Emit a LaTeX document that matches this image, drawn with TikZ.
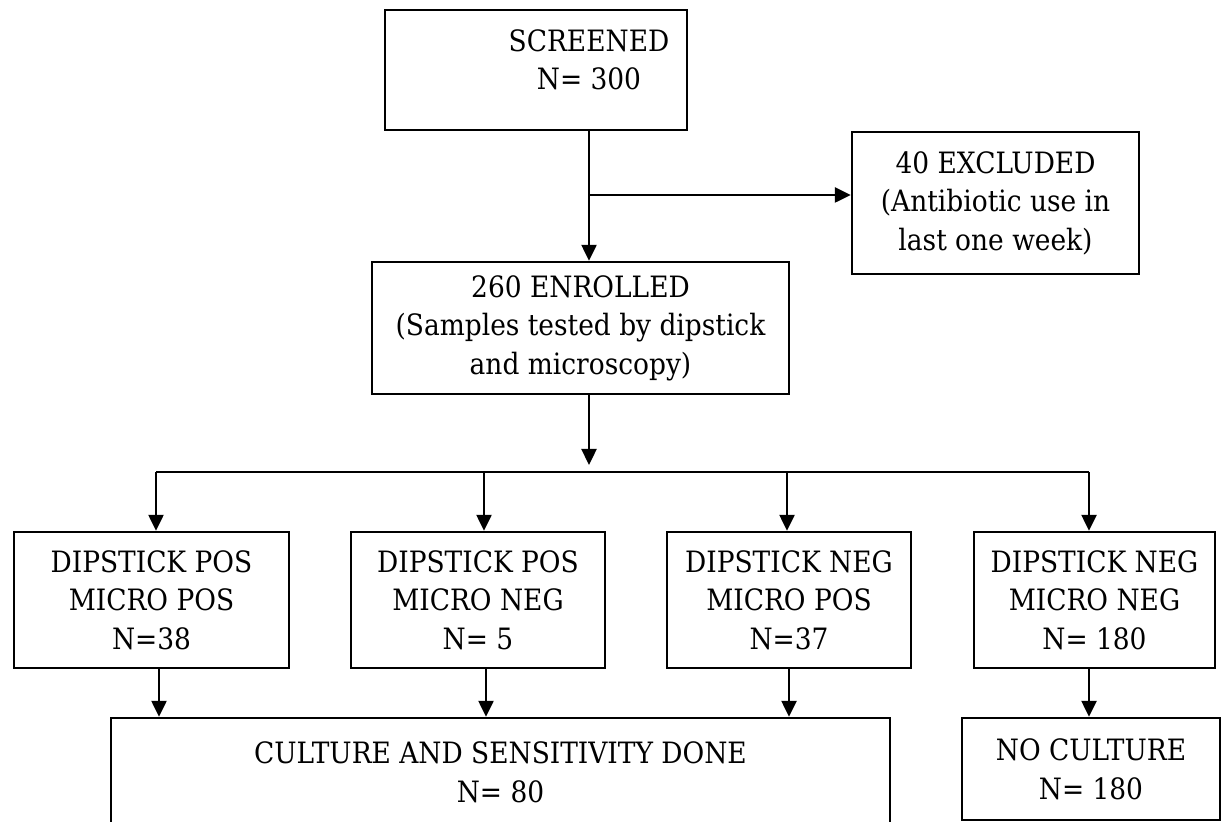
\documentclass[tikz,border=0pt]{standalone}
\usepackage{fontspec}
\setmainfont{DejaVu Serif Condensed}
\usetikzlibrary{arrows.meta}

\begin{document}
\begin{tikzpicture}[
      x=0.5pt, y=-0.5pt,
      mybox/.style={
         rectangle,
         draw=black,
         line width=1.2pt,
         inner sep=2pt,
         align=center,
         font=\fontsize{14.7}{19.3}\selectfont},
      mytext/.style={
         align=center,
         inner sep=0pt,
         font=\fontsize{14.7}{19.3}\selectfont},
      myarrow/.style={-{Triangle[length=8pt,width=7.5pt]}, line width=1.2pt},
      myline/.style={line width=1.2pt},
      ]
      \useasboundingbox (0,0) rectangle (1225,822);
      \clip (0,0) rectangle (1225,822);
      % top part
      \node[mybox, minimum width=151pt, minimum height=60pt] (screened) at (536,70) {};
      \node[mytext] (screenedtxt) at (589,60) {SCREENED\\N= 300};
      \node[mybox, minimum width=143.5pt, minimum height=71pt] (excluded) at (995.5,203)
         {40 EXCLUDED\\(Antibiotic use in\\last one week)};
      \node[mybox, minimum width=208.5pt, minimum height=66pt] (enrolled) at (580.5,328)
         {260 ENROLLED\\(Samples tested by dipstick\\and microscopy)};
      % groups
      \node[mybox, minimum width=137.5pt, minimum height=68pt] (p1) at (151.5,600)
         {DIPSTICK POS\\MICRO POS\\N=38};
      \node[mybox, minimum width=127pt, minimum height=68pt] (p2) at (478,600)
         {DIPSTICK POS\\MICRO NEG\\N= 5};
      \node[mybox, minimum width=122pt, minimum height=68pt] (p3) at (789,600)
         {DIPSTICK NEG\\MICRO POS\\N=37};
      \node[mybox, minimum width=120.5pt, minimum height=68pt] (p4) at (1094.5,600)
         {DIPSTICK NEG\\MICRO NEG\\N= 180};
      \node[mybox, minimum width=389.5pt, minimum height=54pt] (culture) at (500.5,772)
         {CULTURE AND SENSITIVITY DONE\\N= 80};
      \node[mybox, minimum width=129pt, minimum height=51pt] (noculture) at (1091,769)
         {NO CULTURE\\N= 180};
      % connectors
      \coordinate (fork) at (589,195);
      \coordinate (hub) at (589,465);
      \draw[myarrow] (screenedtxt |- screened.south) -- (screenedtxt |- enrolled.north);
      \draw[myarrow] (fork) -- (fork -| excluded.west);
      \draw[myarrow] (hub |- enrolled.south) -- (hub);
    \foreach \n/\xx in {p1/156, p2/484, p3/787, p4/1089} {
       \coordinate (t\n) at (\xx,472);
       \draw[myarrow] (t\n) -- (t\n |- \n.north);
    }
      \draw[myline] (tp1) -- (tp4);
    \foreach \n/\dx/\m in {
      p1/3.75/culture,
      p2/4/culture,
      p3/0/culture,
      p4/-2.75/noculture}
       \draw[myarrow] ([xshift=\dx pt]\n.south) -- ([xshift=\dx pt]\n.south |- \m.north);
\end{tikzpicture}
\end{document}
